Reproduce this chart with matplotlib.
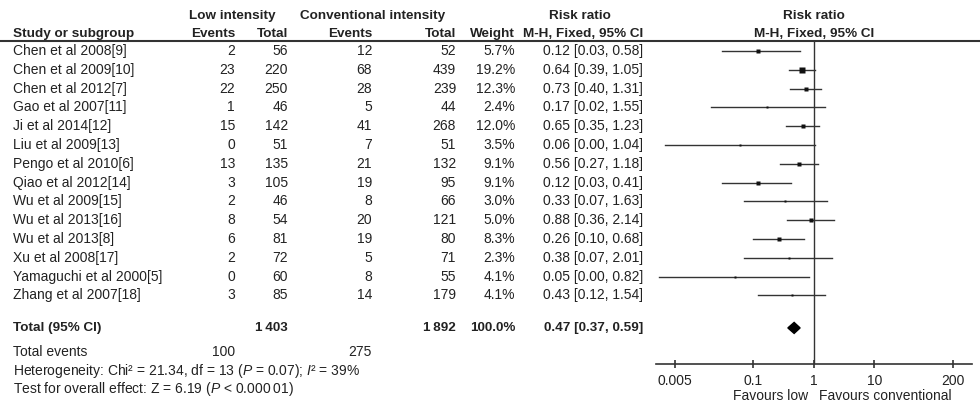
import matplotlib.pyplot as plt
from matplotlib.patches import Polygon

plt.rcParams['font.family'] = ['Liberation Sans', 'DejaVu Sans']
plt.rcParams['mathtext.fontset'] = 'custom'
plt.rcParams['mathtext.rm'] = 'Liberation Sans'
plt.rcParams['mathtext.it'] = 'Liberation Sans:italic'

studies = ['Chen et al 2008[9]', 'Chen et al 2009[10]', 'Chen et al 2012[7]', 'Gao et al 2007[11]',
           'Ji et al 2014[12]', 'Liu et al 2009[13]', 'Pengo et al 2010[6]', 'Qiao et al 2012[14]',
           'Wu et al 2009[15]', 'Wu et al 2013[16]', 'Wu et al 2013[8]', 'Xu et al 2008[17]',
           'Yamaguchi et al 2000[5]', 'Zhang et al 2007[18]']
ev_low = [2, 23, 22, 1, 15, 0, 13, 3, 2, 8, 6, 2, 0, 3]
n_low = [56, 220, 250, 46, 142, 51, 135, 105, 46, 54, 81, 72, 60, 85]
ev_conv = [12, 68, 28, 5, 41, 7, 21, 19, 8, 20, 19, 5, 8, 14]
n_conv = [52, 439, 239, 44, 268, 51, 132, 95, 66, 121, 80, 71, 55, 179]
weights = [5.7, 19.2, 12.3, 2.4, 12.0, 3.5, 9.1, 9.1, 3.0, 5.0, 8.3, 2.3, 4.1, 4.1]
rr = [0.12, 0.64, 0.73, 0.17, 0.65, 0.06, 0.56, 0.12, 0.33, 0.88, 0.26, 0.38, 0.05, 0.43]
ci_lo = [0.03, 0.39, 0.40, 0.02, 0.35, 0.0034, 0.27, 0.03, 0.07, 0.36, 0.10, 0.07, 0.0027, 0.12]
ci_hi = [0.58, 1.05, 1.31, 1.55, 1.23, 1.04, 1.18, 0.41, 1.63, 2.14, 0.68, 2.01, 0.82, 1.54]
total_rr, total_lo, total_hi = 0.47, 0.37, 0.59
total_weight = 100.0
x_ticks = [0.005, 0.1, 1, 10, 200]
x_ticklabels = ['0.005', '0.1', '1', '10', '200']

W, H = 980, 403
FS = 10
FSB = 9.7
C = '#222222'

fig = plt.figure(figsize=(W / 100, H / 100), dpi=100)
ax = fig.add_axes([0, 0, 1, 1])
ax.set_xlim(0, W)
ax.set_ylim(H, 0)
ax.axis('off')

row0, step = 51, 18.8
total_idx = 14.73

# column right edges (pixels)
x_name, x_ev1, x_n1, x_ev2, x_n2, x_w, x_rr = 13, 235, 288, 372, 456, 515, 643


def ry(i):
    return row0 + step * i


def fmt_n(n):
    return f'{n:,}'.replace(',', '\u2009')


def t(x, y, s, ha='right', bold=False):
    ax.text(x, y, s, ha=ha, va='center', fontsize=FSB if bold else FS, color=C,
            fontweight='bold' if bold else 'normal')


# headers
t(232, 16, 'Low intensity', ha='center', bold=True)
t(373, 16, 'Conventional intensity', ha='center', bold=True)
t(580, 16, 'Risk ratio', ha='center', bold=True)
t(814, 16, 'Risk ratio', ha='center', bold=True)
t(x_name, 34, 'Study or subgroup', ha='left', bold=True)
t(x_ev1, 34, 'Events', bold=True)
t(x_n1, 34, 'Total', bold=True)
t(x_ev2, 34, 'Events', bold=True)
t(x_n2, 34, 'Total', bold=True)
t(x_w, 34, 'Weight', bold=True)
t(x_rr, 34, 'M-H, Fixed, 95% CI', bold=True)
t(814, 34, 'M-H, Fixed, 95% CI', ha='center', bold=True)
ax.plot([0, W], [41, 41], color='#333333', lw=1.5)

for i, name in enumerate(studies):
    y = ry(i)
    t(x_name, y, name, ha='left')
    t(x_ev1, y, str(ev_low[i]))
    t(x_n1, y, str(n_low[i]))
    t(x_ev2, y, str(ev_conv[i]))
    t(x_n2, y, str(n_conv[i]))
    t(x_w, y, f'{weights[i]:.1f}%')
    t(x_rr, y, f'{rr[i]:.2f} [{ci_lo[i]:.2f}, {ci_hi[i]:.2f}]')

yt = ry(total_idx)
t(x_name, yt, 'Total (95% CI)', ha='left', bold=True)
t(x_n1, yt, fmt_n(sum(n_low)), bold=True)
t(x_n2, yt, fmt_n(sum(n_conv)), bold=True)
t(x_w, yt, f'{total_weight:.1f}%', bold=True)
t(x_rr, yt, f'{total_rr:.2f} [{total_lo:.2f}, {total_hi:.2f}]', bold=True)
t(x_name, 352, 'Total events', ha='left')
t(x_ev1, 352, str(sum(ev_low)))
t(x_ev2, 352, str(sum(ev_conv)))
t(x_name, 371.5, 'Heterogeneity: Chi\u00b2 = 21.34, df = 13 ($P$ = 0.07); $I$\u00b2 = 39%', ha='left')
t(x_name, 389, 'Test for overall effect: Z = 6.19 ($P$ < 0.000\u200901)', ha='left')

# forest plot
f_left, f_right, f_top, f_bot = 656, 972, 41, 364
axf = fig.add_axes([f_left / W, 1 - f_bot / H, (f_right - f_left) / W, (f_bot - f_top) / H])
axf.patch.set_alpha(0)
axf.set_xscale('log')
axf.set_xlim(0.00245, 409)
axf.set_ylim((f_bot - row0) / step, (f_top - row0) / step)
for s in ['top', 'left', 'right']:
    axf.spines[s].set_visible(False)
axf.spines['bottom'].set_color('#333333')
axf.spines['bottom'].set_linewidth(1.2)
axf.set_yticks([])
axf.set_xticks(x_ticks)
axf.set_xticklabels(x_ticklabels)
axf.minorticks_off()
axf.tick_params(axis='x', direction='inout', length=6, width=1.2, color='#333333',
                labelsize=FS, labelcolor=C, pad=4)
axf.axvline(1, color='#333333', lw=1.0)

for i in range(len(studies)):
    axf.plot([ci_lo[i], ci_hi[i]], [i, i], color='#333333', lw=1.0)
    axf.plot(rr[i], i, marker='s', color='#111111', ms=1.0 * weights[i] ** 0.5, mec='none')

h = 5.5 / step
axf.add_patch(Polygon([(total_lo, total_idx), (total_rr, total_idx - h),
                       (total_hi, total_idx), (total_rr, total_idx + h)],
                      closed=True, color='#000000'))

axf.annotate('Favours low', xy=(1, 0), xycoords=('data', 'axes fraction'),
             xytext=(-6, -32), textcoords='offset pixels', ha='right', va='center',
             fontsize=FS, color=C)
axf.annotate('Favours conventional', xy=(1, 0), xycoords=('data', 'axes fraction'),
             xytext=(5, -32), textcoords='offset pixels', ha='left', va='center',
             fontsize=FS, color=C)

fig.savefig('out.png', dpi=100)
